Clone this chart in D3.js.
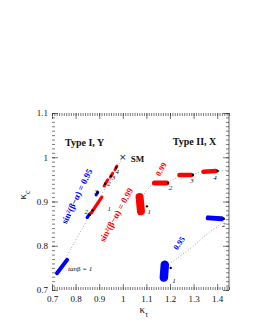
<!DOCTYPE html>
<html>
<head>
<meta charset="utf-8">
<script src="https://cdn.jsdelivr.net/npm/d3@7"></script>
<style>
  html, body { margin: 0; padding: 0; background: #fff; }
  svg { display: block; }
</style>
</head>
<body>
<svg id="chart" width="255" height="330"></svg>
<script>
// kappa_c vs kappa_tau, 2HDM types, sin^2(beta-alpha) = 0.95 / 0.99, tanb = 1..4

const KT_TICKS = [0.7, 0.8, 0.9, 1, 1.1, 1.2, 1.3, 1.4];
const KC_TICKS = [0.7, 0.8, 0.9, 1, 1.1];

// blobs: [tanb, kt0, kc0, kt1, kc1, ktDot, kcDot]
const T1_BLUE = [
  [1, 0.721, 0.738, 0.764, 0.768, null, null],
  [2, 0.849, 0.864, 0.860, 0.872, 0.860, 0.870],
  [3, 0.887, 0.915, 0.894, 0.921, 0.893, 0.920],
];
const T1_RED = [
  [1, 0.866, 0.874, 0.911, 0.910, 0.872, 0.880],
  [2, 0.921, 0.935, 0.936, 0.949, 0.925, 0.940],
  [3, 0.947, 0.955, 0.957, 0.964, 0.950, 0.958],
  [4, 0.967, 0.972, 0.975, 0.980, 0.972, 0.977],
];
const T2_RED = [
  [1, 1.071, 0.910, 1.077, 0.878, 1.102, 0.889],
  [2, 1.134, 0.942, 1.186, 0.942, 1.192, 0.942],
  [3, 1.240, 0.960, 1.291, 0.960, 1.297, 0.960],
  [4, 1.342, 0.967, 1.394, 0.969, 1.402, 0.969],
];
const T2_BLUE = [
  [1, 1.178, 0.757, 1.174, 0.728, 1.203, 0.750],
  [2, 1.362, 0.863, 1.418, 0.861, 1.428, 0.861],
];

// dotted guide curves
const T1_LINE = [[0.72, 0.737], [0.995, 0.995]];
const T2_RED_LINE = [[1.07, 0.90], [1.13, 0.938], [1.19, 0.944], [1.235, 0.955], [1.30, 0.962],
  [1.34, 0.967], [1.40, 0.969], [1.45, 0.971]];
const T2_BLUE_LINE = [[1.205, 0.762], [1.30, 0.80], [1.37, 0.832], [1.425, 0.855], [1.45, 0.872]];

// tanb labels: [text, kt, kc]
const T1_NUMS = [['2', 0.845, 0.877], ['1', 0.943, 0.883], ['3', 0.887, 0.923],
  ['2', 0.941, 0.941], ['3', 0.961, 0.955], ['4', 0.976, 0.968]];
const T2_NUMS = [['1', 1.112, 0.877], ['2', 1.202, 0.931], ['3', 1.2935, 0.9475],
  ['4', 1.391, 0.955], ['1', 1.217, 0.721], ['2', 1.428, 0.849]];

const SM = [1, 1];

const FONT = '"Liberation Serif", "Times New Roman", serif';
const RED = '#ff0000', BLUE = '#0000ff';

const W = 255, H = 330;
const M = { l: 52, r: 229, t: 113, b: 290 };
const x = d3.scaleLinear().domain([0.7, 1.45]).range([M.l, M.r]);
const y = d3.scaleLinear().domain([0.7, 1.1]).range([M.b, M.t]);

const svg = d3.select('#chart');
svg.append('rect').attr('width', W).attr('height', H).attr('fill', '#fff');

// ---- axes (ROOT style: ticks inward on all sides)
const minorX = d3.range(70, 146).map(v => v / 100);
const minorY = d3.range(70, 111).map(v => v / 100);

function axisG(axis, tx, ty) {
  const g = svg.append('g').attr('transform', `translate(${tx},${ty})`).call(axis);
  g.select('.domain').remove();
  g.selectAll('line').attr('stroke', '#222').attr('stroke-width', 0.6);
  g.selectAll('text').attr('font-family', FONT).style('font-size', '9px').attr('fill', '#111');
  return g;
}
const none = () => '';
axisG(d3.axisBottom(x).tickValues(minorX).tickSize(-3).tickFormat(none), 0, M.b);
axisG(d3.axisBottom(x).tickValues(KT_TICKS).tickSize(-6).tickPadding(6).tickFormat(d3.format('~g')), 0, M.b);
axisG(d3.axisTop(x).tickValues(minorX).tickSize(-3).tickFormat(none), 0, M.t);
axisG(d3.axisTop(x).tickValues(KT_TICKS).tickSize(-6).tickFormat(none), 0, M.t);
axisG(d3.axisLeft(y).tickValues(minorY).tickSize(-3).tickFormat(none), M.l, 0);
axisG(d3.axisLeft(y).tickValues(KC_TICKS).tickSize(-6).tickPadding(4).tickFormat(d3.format('~g')), M.l, 0);
axisG(d3.axisRight(y).tickValues(minorY).tickSize(-3).tickFormat(none), M.r, 0);
axisG(d3.axisRight(y).tickValues(KC_TICKS).tickSize(-6).tickFormat(none), M.r, 0);
svg.append('line').attr('x1', M.r).attr('x2', M.r).attr('y1', M.t).attr('y2', M.b)
  .attr('stroke', '#222').attr('stroke-width', 0.7);

// axis titles
const xt = svg.append('text').attr('x', x(1.1) - 7).attr('y', 313)
  .attr('font-family', FONT).style('font-size', '11px').attr('fill', '#111');
xt.append('tspan').text('κ');
xt.append('tspan').attr('dy', 4).style('font-size', '8px').text('τ');
const yt = svg.append('text').attr('transform', `translate(26,${y(0.915)}) rotate(-90)`)
  .attr('text-anchor', 'middle')
  .attr('font-family', FONT).style('font-size', '11px').attr('fill', '#111');
yt.append('tspan').text('κ');
yt.append('tspan').attr('dy', 4).style('font-size', '8px').text('c');

// ---- dotted guides
const line = d3.line().x(d => x(d[0])).y(d => y(d[1])).curve(d3.curveMonotoneX);
[T1_LINE, T2_RED_LINE, T2_BLUE_LINE].forEach(pts => {
  svg.append('path').attr('d', line(pts)).attr('fill', 'none')
    .attr('stroke', '#777').attr('stroke-width', 0.8).attr('stroke-dasharray', '0.8,2.2');
});

// ---- blobs
function drawBlobs(data, col, widths) {
  const g = svg.append('g');
  g.selectAll('line').data(data).join('line')
    .attr('x1', d => x(d[1])).attr('y1', d => y(d[2]))
    .attr('x2', d => x(d[3])).attr('y2', d => y(d[4]))
    .attr('stroke', col).attr('stroke-linecap', 'round')
    .attr('stroke-width', (d, i) => widths[i]);
  g.selectAll('circle').data(data.filter(d => d[5] != null)).join('circle')
    .attr('cx', d => x(d[5])).attr('cy', d => y(d[6])).attr('r', 1.2).attr('fill', '#000');
}
drawBlobs(T1_BLUE, BLUE, [4, 3.2, 3]);
drawBlobs(T1_RED, RED, [3.2, 3, 3, 3]);
drawBlobs(T2_RED, RED, [8, 5, 4.5, 4.5]);
drawBlobs(T2_BLUE, BLUE, [8.5, 5]);

// tanb numbers
[...T1_NUMS, ...T2_NUMS].forEach(d => {
  svg.append('text').attr('x', x(d[1])).attr('y', y(d[2])).attr('dy', '0.35em')
    .attr('text-anchor', 'middle').attr('font-family', FONT).attr('font-style', 'italic')
    .style('font-size', '7px').attr('fill', '#111').text(d[0]);
});

// SM point
svg.append('text').attr('x', x(SM[0])).attr('y', y(SM[1])).attr('dy', '0.35em')
  .attr('text-anchor', 'middle').attr('font-family', 'DejaVu Sans, sans-serif')
  .style('font-size', '9px').attr('fill', '#111').text('×');
svg.append('text').attr('x', x(1.034)).attr('y', y(0.989))
  .attr('font-family', FONT).attr('font-weight', 'bold').style('font-size', '9px')
  .attr('fill', '#111').text('SM');

// titles
svg.append('text').attr('x', x(0.755)).attr('y', y(1.026))
  .attr('font-family', FONT).attr('font-weight', 'bold').style('font-size', '10px')
  .attr('fill', '#111').text('Type I, Y');
svg.append('text').attr('x', x(1.212)).attr('y', y(1.028))
  .attr('font-family', FONT).attr('font-weight', 'bold').style('font-size', '10px')
  .attr('fill', '#111').text('Type II, X');

// tanb = 1
const tb = svg.append('text').attr('x', x(0.768)).attr('y', y(0.742))
  .attr('font-family', FONT).attr('font-style', 'italic').style('font-size', '7px').attr('fill', '#111');
tb.append('tspan').text('tan');
tb.append('tspan').attr('font-style', 'normal').text('β');
tb.append('tspan').text(' = 1');

// rotated labels
function rotLabel(kt, kc, ang, col, txt, size) {
  svg.append('text').attr('transform', `translate(${x(kt)},${y(kc)}) rotate(${ang})`)
    .attr('text-anchor', 'middle').attr('dy', '0.35em')
    .attr('font-family', FONT).attr('font-weight', 'bold').style('font-size', size + 'px')
    .attr('fill', col).text(txt);
}
rotLabel(0.805, 0.912, -64, BLUE, 'sin²(β−α) = 0.95', 9);
rotLabel(0.972, 0.870, -61, RED, 'sin²(β−α) = 0.99', 9);
rotLabel(1.162, 0.973, -60, RED, '0.99', 8);
rotLabel(1.238, 0.806, -55, BLUE, '0.95', 8);
</script>
</body>
</html>
